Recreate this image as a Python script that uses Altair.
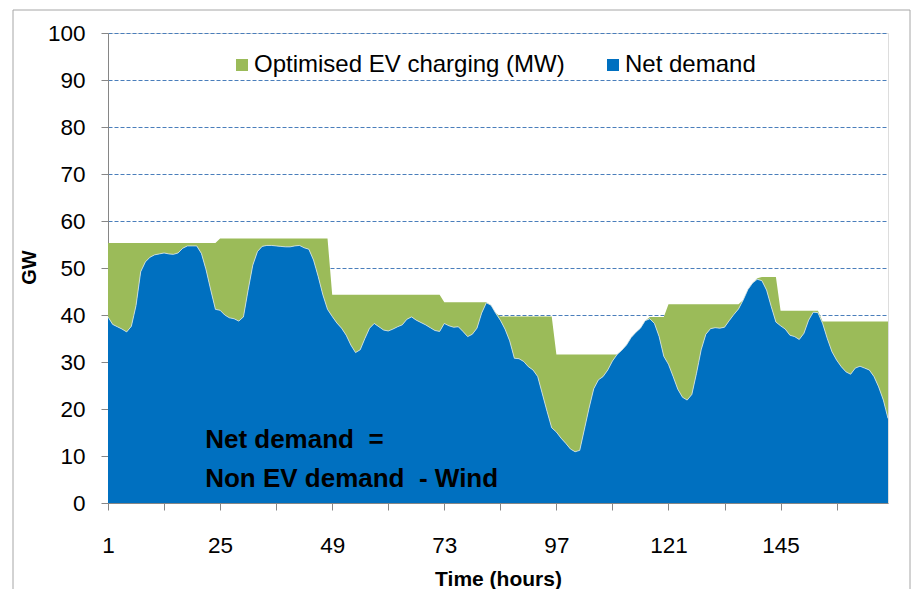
import altair as alt
import pandas as pd

hours = list(range(1, 169))

net_demand = [
    39.6, 38.0, 37.5, 37.0, 36.4, 37.6, 42.0, 49.2, 51.3, 52.3, 52.8, 53.0,
    53.2, 53.0, 52.9, 53.2, 54.2, 54.7, 54.7, 54.7, 53.1, 49.6, 45.3, 41.2,
    41.0, 40.0, 39.4, 39.2, 38.7, 39.6, 45.3, 50.6, 53.5, 54.6, 54.8, 54.8,
    54.7, 54.6, 54.5, 54.5, 54.7, 54.8, 54.3, 54.0, 51.7, 48.2, 44.3, 41.2,
    39.7, 38.3, 37.2, 35.7, 33.6, 32.0, 32.6, 35.0, 37.2, 38.2, 37.5, 36.8,
    36.6, 37.0, 37.5, 37.9, 39.1, 39.6, 38.9, 38.4, 37.9, 37.3, 36.7, 36.5,
    38.2, 37.7, 37.4, 37.5, 36.5, 35.4, 35.9, 37.2, 40.4, 42.6, 42.1, 40.4,
    38.9, 37.0, 34.5, 30.8, 30.7, 30.1, 29.0, 28.3, 26.9, 23.2, 19.5, 16.0,
    15.1, 13.8, 12.7, 11.5, 10.9, 11.2, 15.7, 20.2, 24.3, 26.2, 26.9, 28.3,
    30.2, 31.6, 32.5, 33.6, 35.2, 36.3, 37.2, 38.8, 39.2, 38.2, 35.4, 31.2,
    29.5, 26.9, 24.2, 22.5, 21.9, 23.1, 27.6, 32.6, 35.9, 37.1, 37.3, 37.2,
    37.4, 38.8, 40.1, 41.3, 43.2, 45.4, 46.8, 47.6, 47.3, 45.3, 41.8, 38.5,
    37.7, 37.0, 35.7, 35.4, 34.8, 36.1, 38.9, 40.6, 40.5, 38.2, 35.0, 32.2,
    30.4, 29.0, 27.9, 27.4, 28.7, 29.1, 28.7, 28.3, 26.9, 24.7, 21.9, 18.0,
]

# top of the stack: net demand + optimised EV charging
demand_with_ev = [
    55.3, 55.3, 55.3, 55.3, 55.3, 55.3, 55.3, 55.3, 55.3, 55.3, 55.3, 55.3,
    55.3, 55.3, 55.3, 55.3, 55.3, 55.3, 55.3, 55.3, 55.3, 55.3, 55.3, 55.3,
    56.3, 56.3, 56.3, 56.3, 56.3, 56.3, 56.3, 56.3, 56.3, 56.3, 56.3, 56.3,
    56.3, 56.3, 56.3, 56.3, 56.3, 56.3, 56.3, 56.3, 56.3, 56.3, 56.3, 56.3,
    44.3, 44.3, 44.3, 44.3, 44.3, 44.3, 44.3, 44.3, 44.3, 44.3, 44.3, 44.3,
    44.3, 44.3, 44.3, 44.3, 44.3, 44.3, 44.3, 44.3, 44.3, 44.3, 44.3, 44.3,
    42.7, 42.7, 42.7, 42.7, 42.7, 42.7, 42.7, 42.7, 42.7, 42.7, 42.1, 40.4,
    39.7, 39.7, 39.7, 39.7, 39.7, 39.7, 39.7, 39.7, 39.7, 39.7, 39.7, 39.7,
    31.6, 31.6, 31.6, 31.6, 31.6, 31.6, 31.6, 31.6, 31.6, 31.6, 31.6, 31.6,
    31.6, 31.6, 32.5, 33.6, 35.2, 36.3, 37.2, 38.8, 39.6, 39.6, 39.6, 39.6,
    42.3, 42.3, 42.3, 42.3, 42.3, 42.3, 42.3, 42.3, 42.3, 42.3, 42.3, 42.3,
    42.3, 42.3, 42.3, 42.3, 43.2, 45.4, 46.8, 47.8, 48.1, 48.1, 48.1, 48.1,
    40.9, 40.9, 40.9, 40.9, 40.9, 40.9, 40.9, 40.9, 40.9, 38.6, 38.6, 38.6,
    38.6, 38.6, 38.6, 38.6, 38.6, 38.6, 38.6, 38.6, 38.6, 38.6, 38.6, 38.6,
]

series_names = ["Optimised EV charging (MW)", "Net demand"]
series_colors = ["#9bbb59", "#0070c0"]

x_tick_values = [1, 7, 13, 19, 25, 31, 37, 43, 49, 55, 61, 67, 73, 79, 85, 91,
                 97, 103, 109, 115, 121, 127, 133, 139, 145, 151, 157, 163]
y_tick_values = [0, 10, 20, 30, 40, 50, 60, 70, 80, 90, 100]

note_lines = ["Net demand\u00a0 =", "Non EV demand\u00a0 - Wind"]
note_hour = [21.8, 21.8]
note_gw = [13.3, 5.2]

FONT = "Liberation Sans"

rows = []
for h, n, t in zip(hours, net_demand, demand_with_ev):
    rows.append({"hour": h, "series": series_names[0], "lo": n, "hi": t})
    rows.append({"hour": h, "series": series_names[1], "lo": 0.0, "hi": n})
df = pd.DataFrame(rows)
net_df = pd.DataFrame({"hour": hours, "net": net_demand})
notes_df = pd.DataFrame({"hour": note_hour, "gw": note_gw, "text": note_lines})

x_scale = alt.Scale(domain=[1, 168], nice=False, zero=False)
y_scale = alt.Scale(domain=[0, 100], nice=False)

x_axis = alt.Axis(
    values=x_tick_values,
    labelExpr="(datum.value - 1) % 24 == 0 ? datum.label : ''",
    title="Time (hours)",
    titleFont=FONT, titleFontSize=21, titleFontWeight="bold", titleColor="#000",
    titleY=76, titleBaseline="middle",
    labelFont=FONT, labelFontSize=22.5, labelColor="#000", labelPadding=24,
    labelFlush=False, labelOverlap=False,
    grid=False, domainColor="#868686", tickColor="#868686", tickSize=7,
)
y_axis = alt.Axis(
    values=y_tick_values,
    title="GW",
    titleFont=FONT, titleFontSize=20, titleFontWeight="bold", titleColor="#000",
    titleX=-79, titleY=234, titleBaseline="middle", titleAngle=-90,
    labelFont=FONT, labelFontSize=22.5, labelColor="#000", labelPadding=16,
    grid=True, gridColor="#4a7ebb", gridDash=[4, 2], gridWidth=1,
    domainColor="#868686", tickColor="#868686", tickSize=7,
)

frame = alt.Chart(pd.DataFrame({"k": [0]})).mark_rect(
    filled=False, stroke="#a6a6a6", strokeWidth=1
).encode(
    x=alt.value(-95), x2=alt.value(802), y=alt.value(-23), y2=alt.value(600)
)

areas = alt.Chart(df).mark_area(interpolate="linear", opacity=1).encode(
    x=alt.X("hour:Q", scale=x_scale, axis=x_axis),
    y=alt.Y("hi:Q", scale=y_scale, axis=y_axis),
    y2="lo:Q",
    color=alt.Color(
        "series:N",
        scale=alt.Scale(domain=series_names, range=series_colors),
        legend=alt.Legend(
            orient="none", legendX=122, legendY=20, direction="horizontal",
            title=None, symbolType="square", symbolSize=144, symbolStrokeWidth=0,
            symbolOpacity=1, labelFont=FONT, labelFontSize=24, labelColor="#000",
            columnPadding=36, labelOffset=0, padding=0, labelLimit=400,
        ),
    ),
)

edge = alt.Chart(net_df).mark_line(color="#dfe8e4", strokeWidth=0.8).encode(
    x=alt.X("hour:Q", scale=x_scale),
    y=alt.Y("net:Q", scale=y_scale),
)

notes = alt.Chart(notes_df).mark_text(
    align="left", baseline="middle", font=FONT, fontSize=26, fontWeight="bold",
    color="#000"
).encode(
    x=alt.X("hour:Q", scale=x_scale),
    y=alt.Y("gw:Q", scale=y_scale),
    text="text:N",
)

chart = alt.layer(frame, areas, edge, notes).properties(
    width=780,
    height=470,
    padding={"left": 100, "top": 25, "right": 24, "bottom": 86},
    autosize=alt.AutoSizeParams(type="none"),
).configure_view(stroke=None).configure(font=FONT)

chart.save("out.html", embed_options={"renderer": "svg", "actions": False})
